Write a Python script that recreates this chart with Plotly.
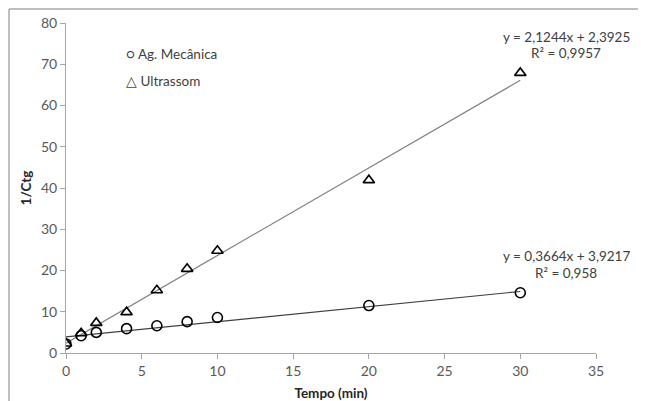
import plotly.graph_objects as go

tempo = [0, 1, 2, 4, 6, 8, 10, 20, 30]
ag_mecanica = [2.2, 4.2, 5.0, 5.9, 6.6, 7.6, 8.6, 11.5, 14.6]
ultrassom = [2.3, 4.8, 7.3, 9.9, 15.2, 20.4, 24.8, 41.9, 67.9]

fit_ag = (0.3664, 3.9217)
fit_us = (2.1244, 2.3925)
fit_x = [0, 30]

font = "Lato, 'Open Sans', sans-serif"

fig = go.Figure()
for (a, b), col in [(fit_us, "#7f7f7f"), (fit_ag, "#404040")]:
    fig.add_trace(go.Scatter(x=fit_x, y=[a * x + b for x in fit_x], mode="lines",
                             line=dict(color=col, width=1.2), showlegend=False, hoverinfo="skip"))
fig.add_trace(go.Scatter(x=tempo, y=ag_mecanica, mode="markers", name="Ag. Mecânica",
                         marker=dict(symbol="circle-open", size=10, color="black", line=dict(width=1.6)),
                         showlegend=False))
fig.add_trace(go.Scatter(x=tempo, y=ultrassom, mode="markers", name="Ultrassom",
                         marker=dict(symbol="triangle-up-open", size=10, color="black", line=dict(width=1.6)),
                         showlegend=False))

ann = [
    dict(x=0.11, y=0.905, text="○ Ag. Mecânica", xanchor="left"),
    dict(x=0.11, y=0.825, text="△ Ultrassom", xanchor="left"),
    dict(x=0.944, y=0.958, text="y = 2,1244x + 2,3925", xanchor="center"),
    dict(x=0.944, y=0.908, text="R² = 0,9957", xanchor="center"),
    dict(x=0.944, y=0.293, text="y = 0,3664x + 3,9217", xanchor="center"),
    dict(x=0.944, y=0.243, text="R² = 0,958", xanchor="center"),
]
annotations = [dict(xref="paper", yref="paper", showarrow=False, yanchor="middle",
                    font=dict(family=font, size=13.5, color="#404040"), **a) for a in ann]

fig.update_layout(
    width=638, height=393,
    margin=dict(l=58, r=50, t=15, b=48),
    paper_bgcolor="white", plot_bgcolor="white",
    font=dict(family=font, size=14, color="#595959"),
    annotations=annotations,
    xaxis=dict(range=[0, 35], tickvals=[0, 5, 10, 15, 20, 25, 30, 35], showgrid=False, zeroline=False,
               showline=True, linecolor="#a6a6a6", linewidth=1, ticks="outside", ticklen=5,
               tickcolor="#a6a6a6", automargin=False,
               title=dict(text="<b>Tempo (min)</b>", font=dict(size=13.5, color="#262626"), standoff=10)),
    yaxis=dict(range=[0, 80], tickvals=[0, 10, 20, 30, 40, 50, 60, 70, 80], showgrid=False, zeroline=False,
               showline=True, linecolor="#a6a6a6", linewidth=1, ticks="outside", ticklen=5,
               tickcolor="#a6a6a6", automargin=False,
               title=dict(text="<b>1/Ctg</b>", font=dict(size=13.5, color="#262626"), standoff=6)),
    shapes=[
        dict(type="line", xref="paper", yref="paper", x0=-0.1075, x1=-0.1075, y0=1.0424, y1=-0.2,
             line=dict(color="#7f7f7f", width=1)),
        dict(type="line", xref="paper", yref="paper", x0=-0.1075, x1=1.2, y0=1.0424, y1=1.0424,
             line=dict(color="#7f7f7f", width=1)),
    ],
)
fig.write_html("out.html")
